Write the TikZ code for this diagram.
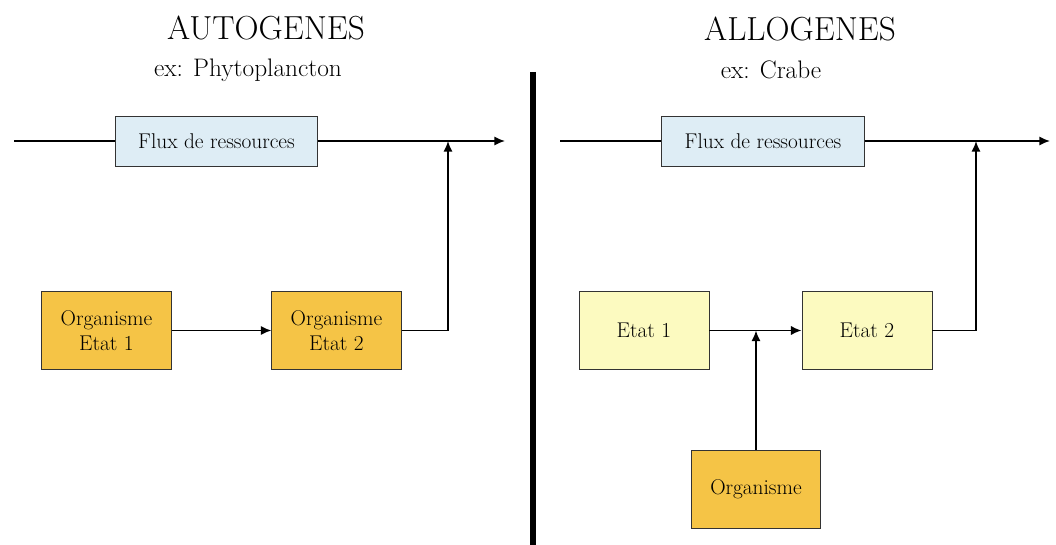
\documentclass[tikz,border=0pt]{standalone}
\usepackage{tikz}
\usetikzlibrary{arrows.meta}
\definecolor{fluxblue}{RGB}{222,237,245}
\definecolor{orgorange}{RGB}{245,196,70}
\definecolor{etatyellow}{RGB}{252,250,192}
\tikzset{
  box/.style={draw=black!80,line width=.6pt,inner sep=2pt,align=center,font=\fontsize{16}{19}\selectfont},
  fluxbox/.style={box,fill=fluxblue,minimum width=152pt,minimum height=37.5pt},
  orgbox/.style={box,fill=orgorange,minimum width=97pt,minimum height=59pt},
  etatbox/.style={box,fill=etatyellow,minimum width=97.5pt,minimum height=59pt},
  conn/.style={line width=1.4pt},
  arr/.style={conn,-{Latex[length=8pt,width=7pt]}}
}
\begin{document}
\begin{tikzpicture}[x=.75pt,y=-.75pt]
\path[use as bounding box,fill=white] (0,0) rectangle (1056,545);
\node[font=\fontsize{25}{28}\selectfont] (titreA) at (266,28) {AUTOGENES};
\node[font=\fontsize{19}{22}\selectfont] (exA) at (248,70) {ex: Phytoplancton};
\node[font=\fontsize{25}{28}\selectfont] (titreB) at (800,29) {ALLOGENES};
\node[font=\fontsize{19}{22}\selectfont] (exB) at (771,70) {ex: Crabe};
\draw[line width=4.5pt] (533,72) -- (533,545);
\node[fluxbox] (fluxA) at (216.5,141) {Flux de ressources};
\node[orgbox] (etat1A) at (106.5,330.5) {Organisme\\Etat 1};
\node[orgbox] (etat2A) at (336.5,330.5) {Organisme\\Etat 2};
\coordinate (inA) at (14,141);
\coordinate (outA) at (505,141);
\coordinate (jA) at (448,141);
\draw[line width=1pt] (inA) -- (fluxA.west);
\draw[arr] (fluxA.east) -- (outA);
\draw[arr] (etat1A.east) -- (etat2A.west);
\draw[arr] (etat2A.east) -| (jA);
\node[fluxbox] (fluxB) at (763,141) {Flux de ressources};
\node[etatbox] (etat1B) at (644,330.5) {Etat 1};
\node[etatbox] (etat2B) at (867,330.5) {Etat 2};
\node[orgbox] (orgB) at (756,489.5) {Organisme};
\coordinate (inB) at (560,141);
\coordinate (outB) at (1050,141);
\coordinate (jB) at (976,141);
\draw[line width=1pt] (inB) -- (fluxB.west);
\draw[arr] (fluxB.east) -- (outB);
\draw[arr] (etat1B.east) -- (etat2B.west);
\draw[arr] (etat2B.east) -| (jB);
\draw[arr] (orgB.north) -- (orgB.north |- etat1B.east);
\end{tikzpicture}
\end{document}
